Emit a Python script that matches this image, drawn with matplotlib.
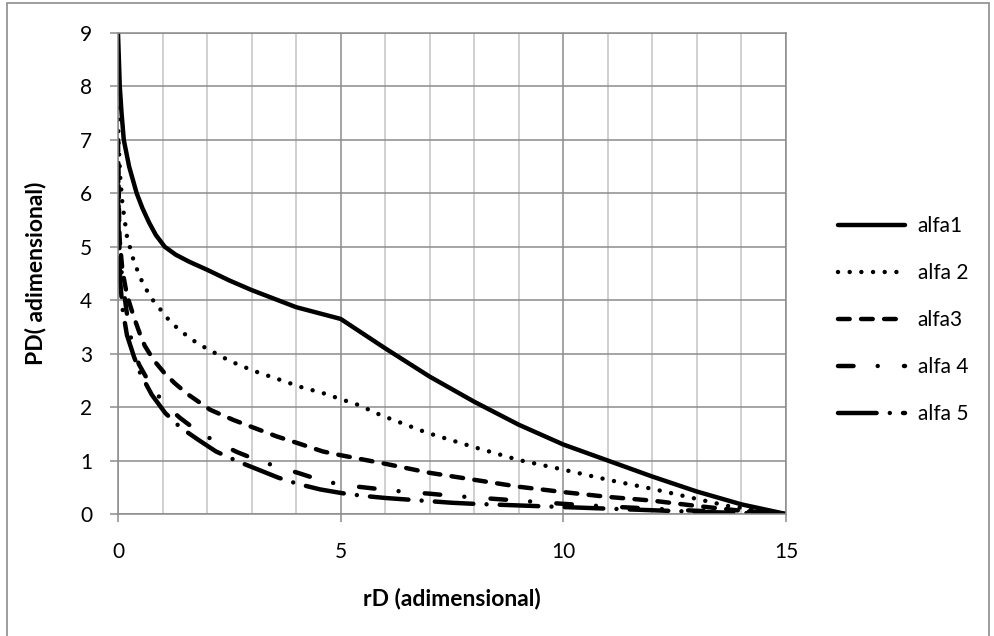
import matplotlib
matplotlib.use("Agg")
import matplotlib.pyplot as plt
from matplotlib.patches import Rectangle
from matplotlib.ticker import MultipleLocator

plt.rcParams['font.family'] = ['Lato', 'DejaVu Sans']
plt.rcParams['lines.scale_dashes'] = False

# values
x1 = [0.0, 0.02, 0.04, 0.08, 0.13, 0.25, 0.42, 0.55, 0.7, 0.85, 1.05, 1.3, 1.6,
      2.0, 2.5, 3.0, 4.0, 5.0, 6.0, 7.0, 8.0, 9.0, 10.0, 11.0, 12.0, 13.0, 14.0, 15.0]
y1 = [9.0, 8.5, 8.0, 7.5, 7.0, 6.5, 6.0, 5.72, 5.45, 5.22, 5.0, 4.85, 4.72,
      4.57, 4.37, 4.19, 3.87, 3.65, 3.1, 2.57, 2.1, 1.67, 1.3, 1.0, 0.7, 0.42, 0.18, 0.0]

x2 = [0.0, 0.01, 0.05, 0.1, 0.2, 0.33, 0.43, 0.54, 0.67, 0.81, 1.0, 1.17, 1.36, 1.6,
      1.81, 2.05, 2.52, 3.04, 3.57, 4.09, 4.61, 5.0, 5.4, 5.9, 6.94, 7.96, 9.0, 10.0,
      11.0, 12.0, 12.9, 13.7, 15.0]
y2 = [7.6, 7.0, 6.3, 5.8, 5.2, 4.8, 4.57, 4.35, 4.15, 3.97, 3.78, 3.6, 3.46, 3.3,
      3.18, 3.07, 2.86, 2.68, 2.53, 2.38, 2.26, 2.15, 2.04, 1.85, 1.52, 1.26, 1.01, 0.83,
      0.64, 0.47, 0.3, 0.15, 0.0]

x3 = [0.0, 0.03, 0.1, 0.2, 0.35, 0.5, 0.6, 0.8, 1.04, 1.27, 1.55, 2.07, 2.59, 3.0,
      3.57, 4.02, 4.6, 5.0, 6.0, 7.0, 8.0, 9.0, 10.0, 11.0, 12.0, 13.0, 14.0, 15.0]
y3 = [7.0, 5.2, 4.55, 4.1, 3.7, 3.35, 3.15, 2.88, 2.64, 2.45, 2.25, 1.95, 1.76, 1.63,
      1.45, 1.33, 1.17, 1.1, 0.94, 0.77, 0.64, 0.51, 0.41, 0.32, 0.25, 0.15, 0.06, 0.0]

x4 = [0.0, 0.03, 0.1, 0.2, 0.31, 0.47, 0.74, 1.06, 1.39, 1.8, 2.25, 2.67, 3.15, 3.64,
      4.04, 4.56, 5.06, 5.5, 6.04, 6.5, 7.0, 7.5, 8.0, 8.5, 9.0, 10.0, 11.0, 12.0,
      13.0, 14.0, 15.0]
y4 = [6.5, 5.0, 4.35, 3.75, 3.2, 2.8, 2.4, 2.04, 1.8, 1.54, 1.33, 1.16, 1.0, 0.87,
      0.77, 0.63, 0.54, 0.5, 0.45, 0.41, 0.38, 0.34, 0.31, 0.28, 0.25, 0.19, 0.14, 0.1,
      0.06, 0.03, 0.0]

x5 = [0.0, 0.02, 0.05, 0.1, 0.2, 0.36, 0.5, 0.76, 1.06, 1.4, 1.8, 2.2, 2.7, 3.15,
      3.6, 4.05, 4.54, 5.03, 5.5, 6.0, 6.5, 7.0, 7.5, 8.0, 9.0, 10.0, 11.0, 12.0,
      13.0, 14.0, 15.0]
y5 = [6.0, 5.0, 4.35, 3.85, 3.35, 2.94, 2.63, 2.23, 1.89, 1.62, 1.39, 1.17, 0.98, 0.83,
      0.68, 0.56, 0.46, 0.39, 0.34, 0.3, 0.27, 0.24, 0.21, 0.19, 0.16, 0.13, 0.1, 0.07,
      0.04, 0.02, 0.0]

labels = ['alfa1', 'alfa 2', 'alfa3', 'alfa 4', 'alfa 5']

fig = plt.figure(figsize=(9.94, 6.36), dpi=100)
ax = fig.add_axes([118 / 994, 1 - 514 / 636, (786 - 118) / 994, (514 - 33) / 636])

# outer chart border
fig.patches.append(Rectangle((7 / 994, -0.01), 982 / 994, 1 - 3 / 636 + 0.01,
                             transform=fig.transFigure, fill=False,
                             edgecolor='#8c8c8c', linewidth=1.2))

lw = 3.2
ax.plot(x1, y1, color='black', lw=lw, solid_capstyle='round', label=labels[0])
ax.plot(x2, y2, color='black', lw=lw, linestyle=(0, (0.01, 8.4)),
        dash_capstyle='round', label=labels[1])
ax.plot(x3, y3, color='black', lw=lw, linestyle=(0, (8.4, 8.2)),
        dash_capstyle='round', label=labels[2])
ax.plot(x4, y4, color='black', lw=lw, linestyle=(0, (11.2, 17.4, 0.01, 18.9)),
        dash_capstyle='round', label=labels[3])
ax.plot(x5, y5, color='black', lw=lw, linestyle=(0, (27.8, 9.5, 0.01, 9.5)),
        dash_capstyle='round', label=labels[4])

ax.set_xlim(0, 15)
ax.set_ylim(0, 9)
ax.xaxis.set_major_locator(MultipleLocator(5))
ax.xaxis.set_minor_locator(MultipleLocator(1))
ax.yaxis.set_major_locator(MultipleLocator(1))

ax.grid(which='minor', axis='x', color='#c4c4c4', linewidth=1.1)
ax.grid(which='major', axis='x', color='#8c8c8c', linewidth=1.1)
ax.grid(which='major', axis='y', color='#8c8c8c', linewidth=1.1)
ax.set_axisbelow(True)
for s in ax.spines.values():
    s.set_color('#8c8c8c')
    s.set_linewidth(1.1)

ax.tick_params(axis='both', which='major', direction='out', length=5.5,
               color='#8c8c8c', width=1.1, labelsize=15)
ax.tick_params(axis='x', which='major', pad=15)
ax.tick_params(axis='y', which='major', pad=13)
ax.tick_params(axis='x', which='minor', length=0)

ax.set_xlabel('rD (adimensional)', fontsize=16.5, fontweight='bold', labelpad=18)
ax.set_ylabel('PD( adimensional)', fontsize=16.5, fontweight='bold', labelpad=24)

ax.legend(loc='center left', bbox_to_anchor=(838 / 994, 1 - 320 / 636),
          bbox_transform=fig.transFigure, frameon=False, fontsize=15,
          handlelength=3.2, handletextpad=0.62, labelspacing=1.3,
          borderpad=0, borderaxespad=0)

fig.savefig('out.png', dpi=100)
